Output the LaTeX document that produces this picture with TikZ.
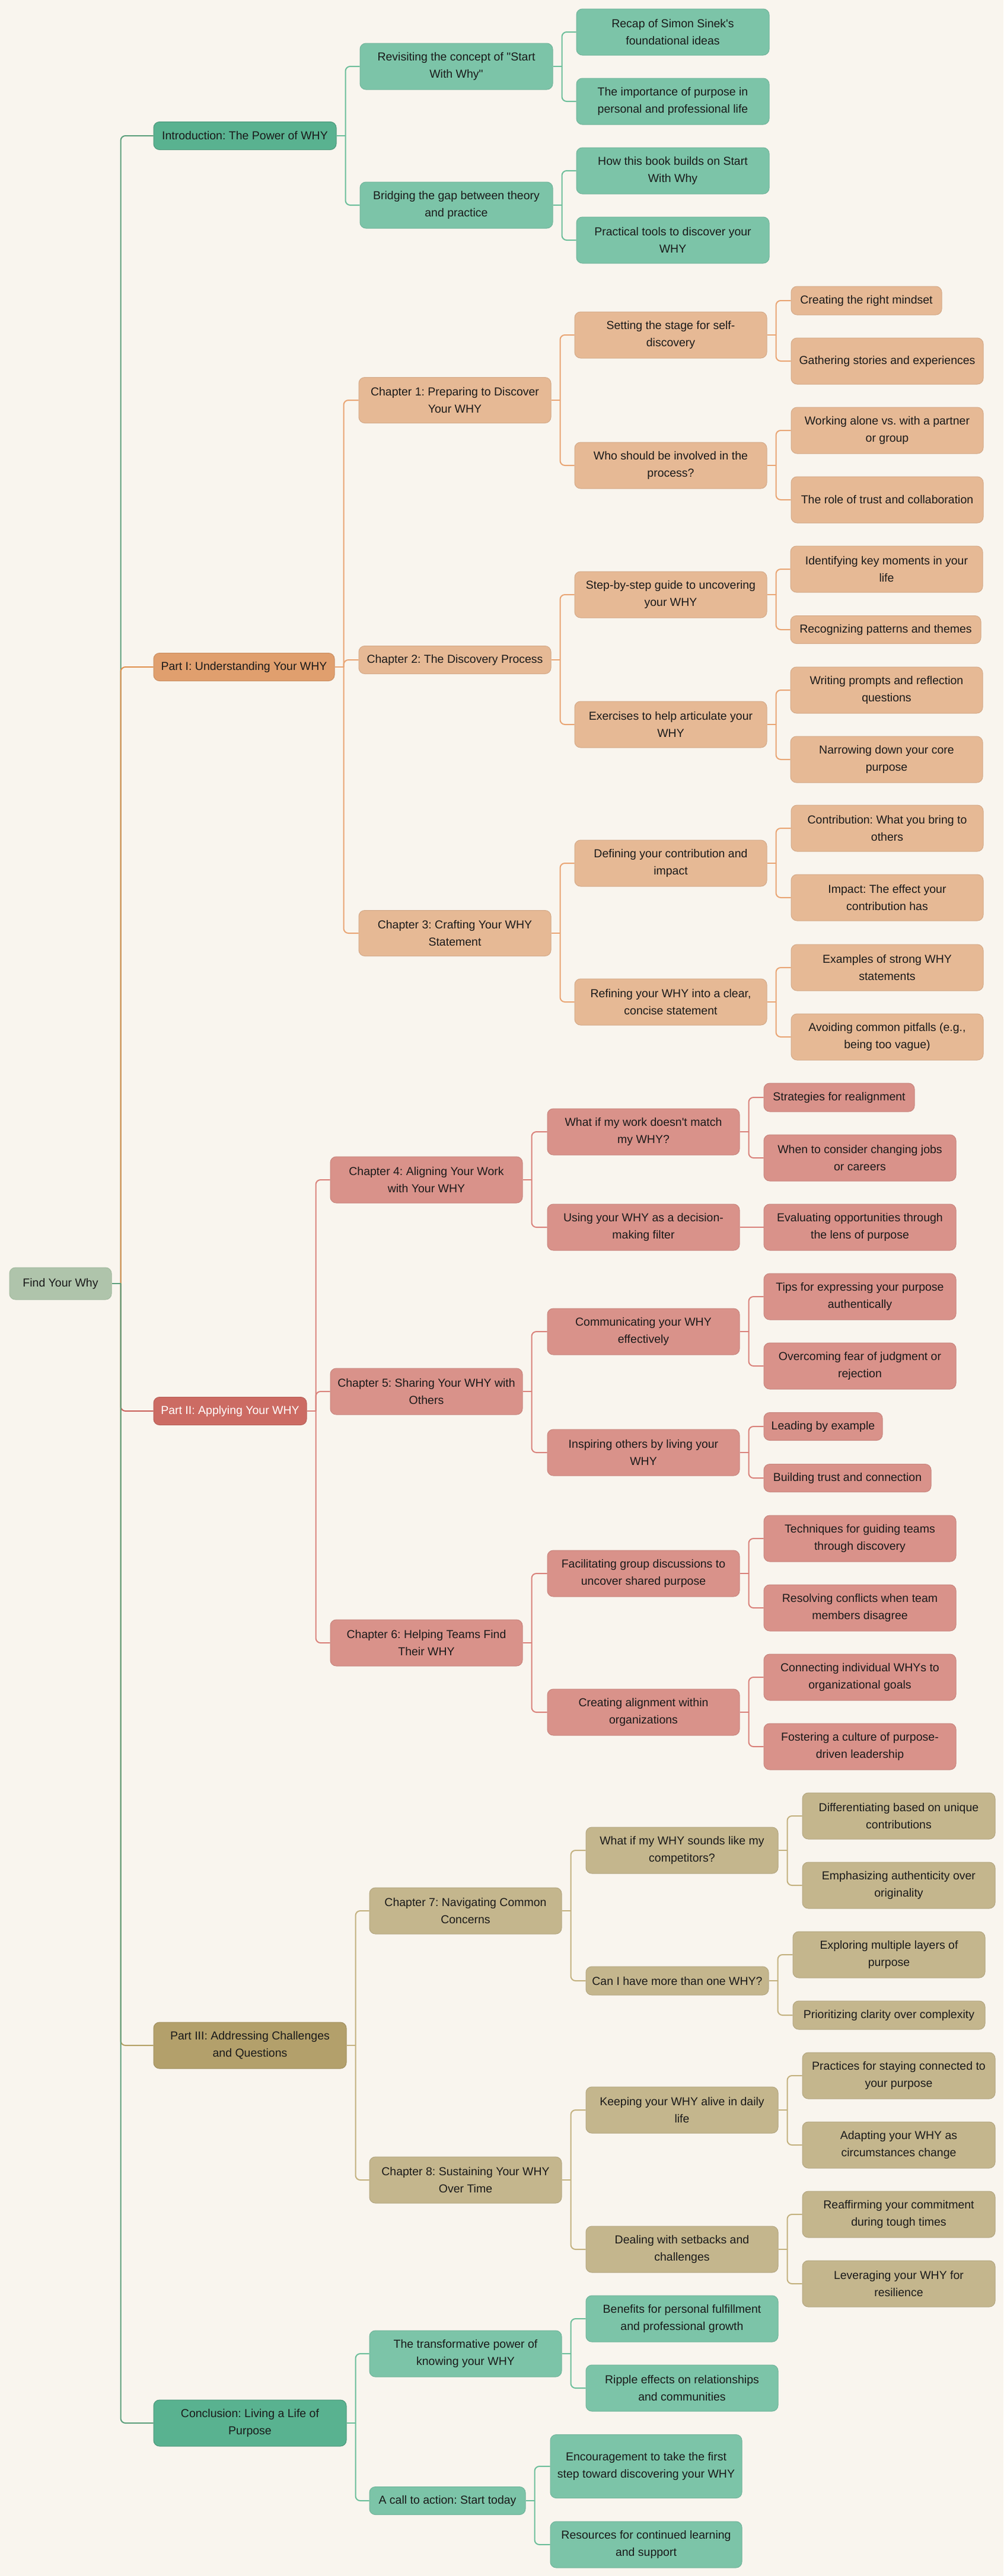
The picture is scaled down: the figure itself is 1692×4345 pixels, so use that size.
\documentclass[tikz,border=0pt]{standalone}
\usepackage{fontspec}
\newfontfamily\rfont{Liberation Sans}
\newcommand\mmfs{\rfont\fontsize{19.5}{29}\selectfont\frenchspacing}
\definecolor{bgc}{HTML}{F9F5EE}
\definecolor{txt}{HTML}{1A1A1A}
\definecolor{rootf}{HTML}{AFC4AB}
\definecolor{rootd}{HTML}{A3BA9F}
\definecolor{gP}{HTML}{59B290}
\definecolor{gC}{HTML}{7CC4A8}
\definecolor{oP}{HTML}{E09F6E}
\definecolor{oC}{HTML}{E6B995}
\definecolor{rP}{HTML}{CC6B63}
\definecolor{rC}{HTML}{D9928A}
\definecolor{yP}{HTML}{B3A06B}
\definecolor{yC}{HTML}{C4B68D}
\definecolor{gL1}{HTML}{5C9F7C}
\definecolor{oL1}{HTML}{E0914F}
\definecolor{rL1}{HTML}{C9605A}
\definecolor{yL1}{HTML}{B39F63}
\definecolor{gL}{HTML}{6CBE9A}
\definecolor{oL}{HTML}{E9A574}
\definecolor{rL}{HTML}{D9817A}
\definecolor{yL}{HTML}{C3B17F}
\tikzset{
  mm/.style={rectangle, rounded corners=10pt, align=center, inner xsep=4pt, inner ysep=0pt, font=\mmfs, text=txt, line width=1pt},
  rootn/.style={mm, fill=rootf, draw=rootd},
  gp/.style={mm, fill=gP, draw=gP!85!black},
  gc/.style={mm, fill=gC, draw=gC!92!black},
  op/.style={mm, fill=oP, draw=oP!90!black},
  oc/.style={mm, fill=oC, draw=oC!92!black},
  rp/.style={mm, fill=rP, draw=rP!90!black, text=white},
  rc/.style={mm, fill=rC, draw=rC!92!black},
  yp/.style={mm, fill=yP, draw=yP!90!black},
  yc/.style={mm, fill=yC, draw=yC!92!black},
  lk/.style={line width=2pt},
}
\newcommand\mn[7]{\node[#1,minimum width=#4pt,minimum height=#6pt] (#2) at ({#3+#4/2},#5) {#7};}
\newcommand\ed[3]{\foreach \cc in {#3} {\draw[lk,#1] (#2.east) -- ++(15,0); \draw[lk,#1,rounded corners=8pt] (#2.east) ++(15,0) |- (\cc.west);}}
\begin{document}
\begin{tikzpicture}[x=1pt,y=-1pt]
\fill[bgc] (0,0) rectangle (1692,4345);
\useasboundingbox (0,0) rectangle (1692,4345);
% root
\mn{rootn}{root}{16}{172}{2165}{54}{Find Your Why}
% level 1
\mn{gp}{intro}{259}{308}{229}{47}{Introduction: The Power of WHY}
\mn{op}{p1}{259}{305}{1125}{47}{Part I: Understanding Your WHY}
\mn{rp}{p2}{259}{258}{2380}{47}{Part II: Applying Your WHY}
\mn{yp}{p3}{259}{325}{3450}{78}{Part III: Addressing Challenges\\and Questions}
\mn{gp}{concl}{259}{325}{4087}{78}{Conclusion: Living a Life of\\Purpose}
% intro
\mn{gc}{i1}{607}{325}{112}{78}{Revisiting the concept of \char34 Start\\With Why\char34}
\mn{gc}{i2}{607}{325}{346}{78}{Bridging the gap between theory\\and practice}
\mn{gc}{i1a}{972}{325}{54}{78}{Recap of Simon Sinek's\\foundational ideas}
\mn{gc}{i1b}{972}{325}{171}{78}{The importance of purpose in\\personal and professional life}
\mn{gc}{i2a}{972}{325}{288}{78}{How this book builds on Start\\With Why}
\mn{gc}{i2b}{972}{325}{405}{78}{Practical tools to discover your\\WHY}
% part I
\mn{oc}{c1}{605}{324}{675}{77}{Chapter 1: Preparing to Discover\\Your WHY}
\mn{oc}{c2}{605}{324}{1113}{47}{Chapter 2: The Discovery Process}
\mn{oc}{c3}{605}{324}{1574}{77}{Chapter 3: Crafting Your WHY\\Statement}
\mn{oc}{c1a}{969}{324}{565}{78}{Setting the stage for self-\\discovery}
\mn{oc}{c1b}{969}{324}{785}{78}{Who should be involved in the\\process?}
\mn{oc}{c2a}{969}{324}{1003}{78}{Step-by-step guide to uncovering\\your WHY}
\mn{oc}{c2b}{969}{324}{1222}{78}{Exercises to help articulate your\\WHY}
\mn{oc}{c3a}{969}{324}{1456}{78}{Defining your contribution and\\impact}
\mn{oc}{c3b}{969}{324}{1690}{78}{Refining your WHY into a clear,\\concise statement}
\mn{oc}{c1a1}{1334}{254}{507}{48}{Creating the right mindset}
\mn{oc}{c1a2}{1334}{324}{609}{78}{Gathering stories and experiences}
\mn{oc}{c1b1}{1334}{324}{726}{78}{Working alone vs. with a partner\\or group}
\mn{oc}{c1b2}{1334}{324}{843}{78}{The role of trust and collaboration}
\mn{oc}{c2a1}{1333}{324}{960}{78}{Identifying key moments in your\\life}
\mn{oc}{c2a2}{1333}{321}{1062}{47}{Recognizing patterns and themes}
\mn{oc}{c2b1}{1333}{324}{1164}{78}{Writing prompts and reflection\\questions}
\mn{oc}{c2b2}{1333}{324}{1281}{78}{Narrowing down your core\\purpose}
\mn{oc}{c3a1}{1334}{324}{1397}{78}{Contribution: What you bring to\\others}
\mn{oc}{c3a2}{1334}{324}{1514}{78}{Impact: The effect your\\contribution has}
\mn{oc}{c3b1}{1334}{324}{1632}{78}{Examples of strong WHY\\statements}
\mn{oc}{c3b2}{1334}{324}{1749}{78}{Avoiding common pitfalls (e.g.,\\being too vague)}
% part II
\mn{rc}{c4}{557}{324}{1990}{78}{Chapter 4: Aligning Your Work\\with Your WHY}
\mn{rc}{c5}{557}{324}{2347}{78}{Chapter 5: Sharing Your WHY with\\Others}
\mn{rc}{c6}{557}{324}{2771}{78}{Chapter 6: Helping Teams Find\\Their WHY}
\mn{rc}{c4a}{923}{324}{1909}{78}{What if my work doesn't match\\my WHY?}
\mn{rc}{c4b}{923}{324}{2070}{78}{Using your WHY as a decision-\\making filter}
\mn{rc}{c5a}{923}{324}{2246}{78}{Communicating your WHY\\effectively}
\mn{rc}{c5b}{923}{324}{2450}{78}{Inspiring others by living your\\WHY}
\mn{rc}{c6a}{923}{324}{2654}{78}{Facilitating group discussions to\\uncover shared purpose}
\mn{rc}{c6b}{923}{324}{2888}{78}{Creating alignment within\\organizations}
\mn{rc}{c4a1}{1288}{254}{1851}{48}{Strategies for realignment}
\mn{rc}{c4a2}{1288}{324}{1953}{78}{When to consider changing jobs\\or careers}
\mn{rc}{c4b1}{1288}{324}{2070}{78}{Evaluating opportunities through\\the lens of purpose}
\mn{rc}{c5a1}{1288}{324}{2187}{78}{Tips for expressing your purpose\\authentically}
\mn{rc}{c5a2}{1288}{324}{2304}{78}{Overcoming fear of judgment or\\rejection}
\mn{rc}{c5b1}{1288}{200}{2406}{47}{Leading by example}
\mn{rc}{c5b2}{1288}{282}{2493}{47}{Building trust and connection}
\mn{rc}{c6a1}{1288}{324}{2595}{78}{Techniques for guiding teams\\through discovery}
\mn{rc}{c6a2}{1288}{324}{2712}{78}{Resolving conflicts when team\\members disagree}
\mn{rc}{c6b1}{1288}{324}{2829}{78}{Connecting individual WHYs to\\organizational goals}
\mn{rc}{c6b2}{1288}{324}{2946}{78}{Fostering a culture of purpose-\\driven leadership}
% part III
\mn{yc}{c7}{623}{324}{3223}{78}{Chapter 7: Navigating Common\\Concerns}
\mn{yc}{c8}{623}{324}{3677}{78}{Chapter 8: Sustaining Your WHY\\Over Time}
\mn{yc}{c7a}{988}{324}{3121}{78}{What if my WHY sounds like my\\competitors?}
\mn{yc}{c7b}{988}{308}{3341}{48}{Can I have more than one WHY?}
\mn{yc}{c8a}{988}{324}{3559}{78}{Keeping your WHY alive in daily\\life}
\mn{yc}{c8b}{988}{324}{3794}{78}{Dealing with setbacks and\\challenges}
\mn{yc}{c7a1}{1353}{325}{3063}{78}{Differentiating based on unique\\contributions}
\mn{yc}{c7a2}{1353}{325}{3180}{78}{Emphasizing authenticity over\\originality}
\mn{yc}{c7b1}{1337}{324}{3297}{78}{Exploring multiple layers of\\purpose}
\mn{yc}{c7b2}{1337}{324}{3399}{48}{Prioritizing clarity over complexity}
\mn{yc}{c8a1}{1353}{325}{3501}{78}{Practices for staying connected to\\your purpose}
\mn{yc}{c8a2}{1353}{325}{3618}{78}{Adapting your WHY as\\circumstances change}
\mn{yc}{c8b1}{1353}{325}{3735}{78}{Reaffirming your commitment\\during tough times}
\mn{yc}{c8b2}{1353}{325}{3852}{78}{Leveraging your WHY for\\resilience}
% conclusion
\mn{gc}{k1}{623}{324}{3970}{78}{The transformative power of\\knowing your WHY}
\mn{gc}{k2}{623}{263}{4218}{47}{A call to action: Start today}
\mn{gc}{k1a}{988}{324}{3911}{78}{Benefits for personal fulfillment\\and professional growth}
\mn{gc}{k1b}{988}{324}{4028}{78}{Ripple effects on relationships\\and communities}
\mn{gc}{k2a}{928}{323}{4160}{107}{Encouragement to take the first\\step toward discovering your WHY}
\mn{gc}{k2b}{928}{323}{4292}{78}{Resources for continued learning\\and support}
% connectors
\ed{gL1}{root}{intro}
\ed{oL1}{root}{p1}
\ed{rL1}{root}{p2}
\ed{yL1}{root}{p3}
\ed{gL1}{root}{concl}
\ed{gL}{intro}{i1,i2}
\ed{gL}{i1}{i1a,i1b}
\ed{gL}{i2}{i2a,i2b}
\ed{oL}{p1}{c1,c2,c3}
\ed{oL}{c1}{c1a,c1b}
\ed{oL}{c2}{c2a,c2b}
\ed{oL}{c3}{c3a,c3b}
\ed{oL}{c1a}{c1a1,c1a2}
\ed{oL}{c1b}{c1b1,c1b2}
\ed{oL}{c2a}{c2a1,c2a2}
\ed{oL}{c2b}{c2b1,c2b2}
\ed{oL}{c3a}{c3a1,c3a2}
\ed{oL}{c3b}{c3b1,c3b2}
\ed{rL}{p2}{c4,c5,c6}
\ed{rL}{c4}{c4a,c4b}
\ed{rL}{c5}{c5a,c5b}
\ed{rL}{c6}{c6a,c6b}
\ed{rL}{c4a}{c4a1,c4a2}
\draw[lk,rL] (c4b.east) -- (c4b1.west);
\ed{rL}{c5a}{c5a1,c5a2}
\ed{rL}{c5b}{c5b1,c5b2}
\ed{rL}{c6a}{c6a1,c6a2}
\ed{rL}{c6b}{c6b1,c6b2}
\ed{yL}{p3}{c7,c8}
\ed{yL}{c7}{c7a,c7b}
\ed{yL}{c8}{c8a,c8b}
\ed{yL}{c7a}{c7a1,c7a2}
\ed{yL}{c7b}{c7b1,c7b2}
\ed{yL}{c8a}{c8a1,c8a2}
\ed{yL}{c8b}{c8b1,c8b2}
\ed{gL}{concl}{k1,k2}
\ed{gL}{k1}{k1a,k1b}
\ed{gL}{k2}{k2a,k2b}
\end{tikzpicture}
\end{document}
